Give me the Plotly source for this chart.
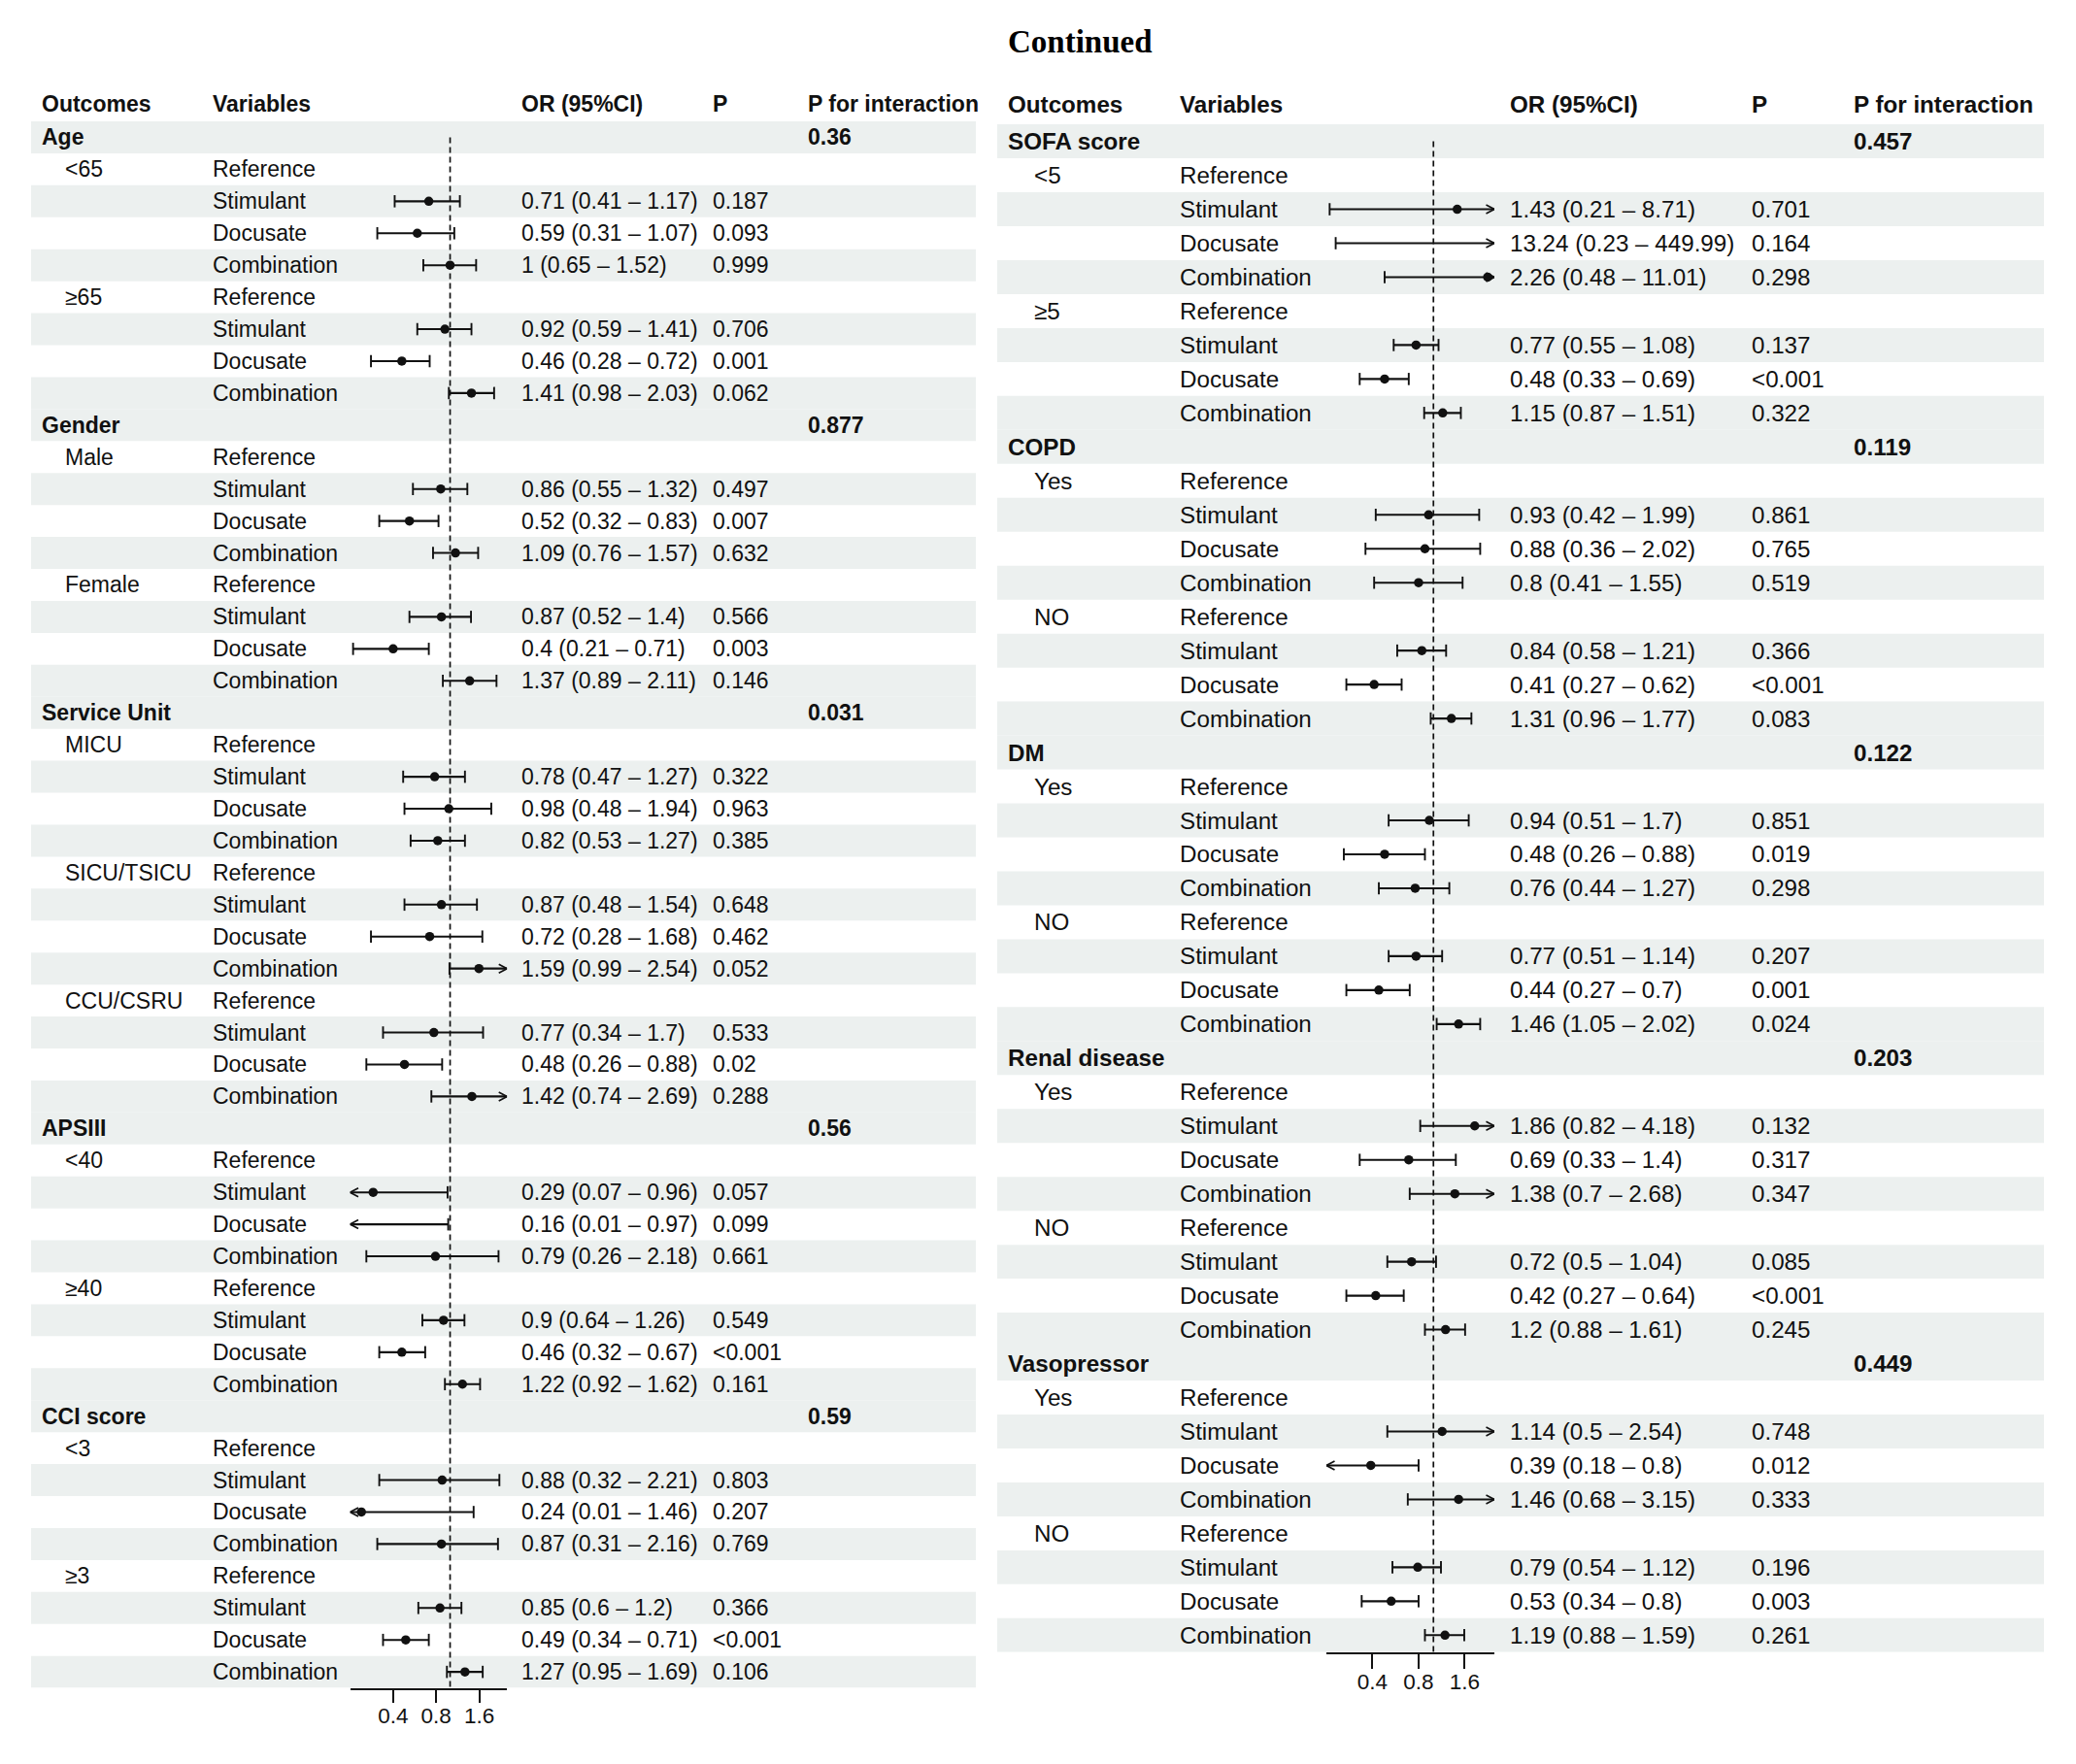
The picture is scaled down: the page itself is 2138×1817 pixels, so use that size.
import math
import plotly.graph_objects as go

W, H = 2138, 1817          # window size (reference pixel space)
OFF = 8                    # default body margin of the html page
FW, FH = W - 2 * OFF, H - 2 * OFF   # figure size


def px(xp):
    return (xp - OFF) / FW


def py(yp):
    return 1 - (yp - OFF) / FH


VARS = ["Stimulant", "Docusate", "Combination"]
XLIM = [0.2, 2.5]
TICKS = [0.4, 0.8, 1.6]
TICK_TEXT = ["0.4", "0.8", "1.6"]
REF = 1.0
HEADERS = ["Outcomes", "Variables", "OR (95%CI)", "P", "P for interaction"]

# ---------------- left panel data ----------------
L_groups = ["Age", "Gender", "Service Unit", "APSIII", "CCI score"]
L_pint = ["0.36", "0.877", "0.031", "0.56", "0.59"]
L_subgroups = [["<65", "≥65"], ["Male", "Female"], ["MICU", "SICU/TSICU", "CCU/CSRU"],
               ["<40", "≥40"], ["<3", "≥3"]]
L_or = [0.71, 0.59, 1, 0.92, 0.46, 1.41,
        0.86, 0.52, 1.09, 0.87, 0.4, 1.37,
        0.78, 0.98, 0.82, 0.87, 0.72, 1.59, 0.77, 0.48, 1.42,
        0.29, 0.16, 0.79, 0.9, 0.46, 1.22,
        0.88, 0.24, 0.87, 0.85, 0.49, 1.27]
L_lo = [0.41, 0.31, 0.65, 0.59, 0.28, 0.98,
        0.55, 0.32, 0.76, 0.52, 0.21, 0.89,
        0.47, 0.48, 0.53, 0.48, 0.28, 0.99, 0.34, 0.26, 0.74,
        0.07, 0.01, 0.26, 0.64, 0.32, 0.92,
        0.32, 0.01, 0.31, 0.6, 0.34, 0.95]
L_hi = [1.17, 1.07, 1.52, 1.41, 0.72, 2.03,
        1.32, 0.83, 1.57, 1.4, 0.71, 2.11,
        1.27, 1.94, 1.27, 1.54, 1.68, 2.54, 1.7, 0.88, 2.69,
        0.96, 0.97, 2.18, 1.26, 0.67, 1.62,
        2.21, 1.46, 2.16, 1.2, 0.71, 1.69]
L_p = ["0.187", "0.093", "0.999", "0.706", "0.001", "0.062",
       "0.497", "0.007", "0.632", "0.566", "0.003", "0.146",
       "0.322", "0.963", "0.385", "0.648", "0.462", "0.052", "0.533", "0.02", "0.288",
       "0.057", "0.099", "0.661", "0.549", "<0.001", "0.161",
       "0.803", "0.207", "0.769", "0.366", "<0.001", "0.106"]

# ---------------- right panel data ----------------
R_groups = ["SOFA score", "COPD", "DM", "Renal disease", "Vasopressor"]
R_pint = ["0.457", "0.119", "0.122", "0.203", "0.449"]
R_subgroups = [["<5", "≥5"], ["Yes", "NO"], ["Yes", "NO"], ["Yes", "NO"], ["Yes", "NO"]]
R_or = [1.43, 13.24, 2.26, 0.77, 0.48, 1.15,
        0.93, 0.88, 0.8, 0.84, 0.41, 1.31,
        0.94, 0.48, 0.76, 0.77, 0.44, 1.46,
        1.86, 0.69, 1.38, 0.72, 0.42, 1.2,
        1.14, 0.39, 1.46, 0.79, 0.53, 1.19]
R_lo = [0.21, 0.23, 0.48, 0.55, 0.33, 0.87,
        0.42, 0.36, 0.41, 0.58, 0.27, 0.96,
        0.51, 0.26, 0.44, 0.51, 0.27, 1.05,
        0.82, 0.33, 0.7, 0.5, 0.27, 0.88,
        0.5, 0.18, 0.68, 0.54, 0.34, 0.88]
R_hi = [8.71, 449.99, 11.01, 1.08, 0.69, 1.51,
        1.99, 2.02, 1.55, 1.21, 0.62, 1.77,
        1.7, 0.88, 1.27, 1.14, 0.7, 2.02,
        4.18, 1.4, 2.68, 1.04, 0.64, 1.61,
        2.54, 0.8, 3.15, 1.12, 0.8, 1.59]
R_p = ["0.701", "0.164", "0.298", "0.137", "<0.001", "0.322",
       "0.861", "0.765", "0.519", "0.366", "<0.001", "0.083",
       "0.851", "0.019", "0.298", "0.207", "0.001", "0.024",
       "0.132", "0.317", "0.347", "0.085", "<0.001", "0.245",
       "0.748", "0.012", "0.333", "0.196", "0.003", "0.261"]

FONT = "Liberation Sans, Arial, Helvetica, sans-serif"
SHADE = "#ECF0EF"
INK = "#111111"

panels = [
    dict(groups=L_groups, pint=L_pint, subs=L_subgroups, orv=L_or, lo=L_lo, hi=L_hi, p=L_p,
         xa="x", ya="y", xdom=(360.5, 522.2), row_top=125.0, row_bot=1738.6,
         shade=(32, 1005), cols=(41, 65, 217, 535, 732, 830), header_y=107,
         fs=23, ticklen=14),
    dict(groups=R_groups, pint=R_pint, subs=R_subgroups, orv=R_or, lo=R_lo, hi=R_hi, p=R_p,
         xa="x2", ya="y2", xdom=(1366.0, 1539.0), row_top=128.1, row_bot=1701.8,
         shade=(1027, 2105), cols=(1036, 1063, 1213, 1553, 1802, 1907), header_y=108,
         fs=24.2, ticklen=15),
]


def fmt(v):
    return "{:g}".format(v)


fig = go.Figure()
shapes = []
annotations = []

for idx, pn in enumerate(panels):
    rows = []
    k = 0
    for g, gname in enumerate(pn["groups"]):
        start = len(rows)
        rows.append(dict(kind="group", label=gname, pint=pn["pint"][g], shade=True))
        for sub in pn["subs"][g]:
            rows.append(dict(kind="ref", label=sub, shade=((len(rows) - start) % 2 == 0)))
            for v in VARS:
                rows.append(dict(kind="est", var=v, k=k, shade=((len(rows) - start) % 2 == 0)))
                k += 1
    n = len(rows)
    xref, yref = pn["xa"], pn["ya"]
    row_px = (pn["row_bot"] - pn["row_top"]) / n
    c_out, c_sub, c_var, c_or, c_p, c_pi = pn["cols"]
    fs = pn["fs"]

    for r, row in enumerate(rows):
        if row["shade"]:
            shapes.append(dict(type="rect", xref="paper", yref=yref,
                               x0=px(pn["shade"][0]), x1=px(pn["shade"][1]),
                               y0=r - 0.5, y1=r + 0.5, fillcolor=SHADE,
                               line=dict(width=0), layer="below"))
    shapes.append(dict(type="line", xref=xref, yref=yref, x0=REF, x1=REF, y0=0, y1=n - 0.5,
                       line=dict(color=INK, width=1.7, dash="6px,4px"), layer="below"))

    def txt(xpx, r, s, bold=False):
        annotations.append(dict(x=px(xpx), xref="paper", y=r, yref=yref,
                                text=("<b>%s</b>" % s) if bold else s,
                                showarrow=False, xanchor="left", yanchor="middle",
                                font=dict(family=FONT, size=fs, color=INK)))

    for cx, h in zip((c_out, c_var, c_or, c_p, c_pi), HEADERS):
        annotations.append(dict(x=px(cx), xref="paper", y=py(pn["header_y"]), yref="paper",
                                text="<b>%s</b>" % h, showarrow=False, xanchor="left", yanchor="middle",
                                font=dict(family=FONT, size=fs, color=INK)))

    lx, ly, capx, capy, arx, ary, dx, dy = [], [], [], [], [], [], [], []
    lmin, lmax = math.log10(XLIM[0]), math.log10(XLIM[1])
    dom_px = pn["xdom"][1] - pn["xdom"][0]
    ah = 8.5 * (lmax - lmin) / dom_px
    av = 4.5 / row_px
    for r, row in enumerate(rows):
        if row["kind"] == "group":
            txt(c_out, r, row["label"], bold=True)
            txt(c_pi, r, row["pint"], bold=True)
        elif row["kind"] == "ref":
            txt(c_sub, r, row["label"])
            txt(c_var, r, "Reference")
        else:
            i = row["k"]
            o, lo, hi = pn["orv"][i], pn["lo"][i], pn["hi"][i]
            txt(c_var, r, row["var"])
            txt(c_or, r, "%s (%s – %s)" % (fmt(o), fmt(lo), fmt(hi)))
            txt(c_p, r, pn["p"][i])
            a, b = max(lo, XLIM[0]), min(hi, XLIM[1])
            lx += [a, b, None]
            ly += [r, r, None]
            if lo >= XLIM[0]:
                capx.append(lo); capy.append(r)
            else:
                t = 10 ** (lmin + ah)
                arx += [t, XLIM[0], t, None]; ary += [r - av, r, r + av, None]
            if hi <= XLIM[1]:
                capx.append(hi); capy.append(r)
            else:
                t = 10 ** (lmax - ah)
                arx += [t, XLIM[1], t, None]; ary += [r - av, r, r + av, None]
            if XLIM[0] <= o <= XLIM[1]:
                dx.append(o); dy.append(r)

    fig.add_trace(go.Scatter(x=lx, y=ly, mode="lines", xaxis=xref, yaxis=yref,
                             line=dict(color=INK, width=2.1), hoverinfo="skip"))
    fig.add_trace(go.Scatter(x=arx, y=ary, mode="lines", xaxis=xref, yaxis=yref,
                             line=dict(color=INK, width=1.7), hoverinfo="skip"))
    fig.add_trace(go.Scatter(x=capx, y=capy, mode="markers", xaxis=xref, yaxis=yref, cliponaxis=False,
                             marker=dict(symbol="line-ns", size=9, line=dict(color=INK, width=1.9)),
                             hoverinfo="skip"))
    fig.add_trace(go.Scatter(x=dx, y=dy, mode="markers", xaxis=xref, yaxis=yref, cliponaxis=False,
                             marker=dict(symbol="circle", size=9.5, color=INK), hoverinfo="skip"))

    xkey = "xaxis" if idx == 0 else "xaxis2"
    ykey = "yaxis" if idx == 0 else "yaxis2"
    fig.update_layout(**{
        xkey: dict(type="log", range=[lmin, lmax], domain=[px(pn["xdom"][0]), px(pn["xdom"][1])],
                   anchor=yref, showline=True, linecolor=INK, linewidth=1.7, ticks="outside",
                   ticklen=pn["ticklen"], tickwidth=1.7, tickcolor=INK, tickvals=TICKS, ticktext=TICK_TEXT,
                   ticklabelstandoff=-6,
                   tickfont=dict(family=FONT, size=22.5, color=INK), showgrid=False, zeroline=False,
                   automargin=False, fixedrange=True),
        ykey: dict(range=[n - 0.5, -0.5], domain=[py(pn["row_bot"]), py(pn["row_top"])],
                   anchor=xref, visible=False, showgrid=False, zeroline=False, automargin=False,
                   fixedrange=True),
    })

annotations.append(dict(x=px(1112.5), y=py(43), xref="paper", yref="paper", text="<b>Continued</b>",
                        showarrow=False, xanchor="center", yanchor="middle",
                        font=dict(family="Liberation Serif, Times New Roman, serif", size=33, color="#000000")))

fig.update_layout(width=FW, height=FH, margin=dict(l=0, r=0, t=0, b=0),
                  paper_bgcolor="white", plot_bgcolor="rgba(0,0,0,0)", showlegend=False,
                  shapes=shapes, annotations=annotations, font=dict(family=FONT, color=INK))

fig.write_html("out.html")
